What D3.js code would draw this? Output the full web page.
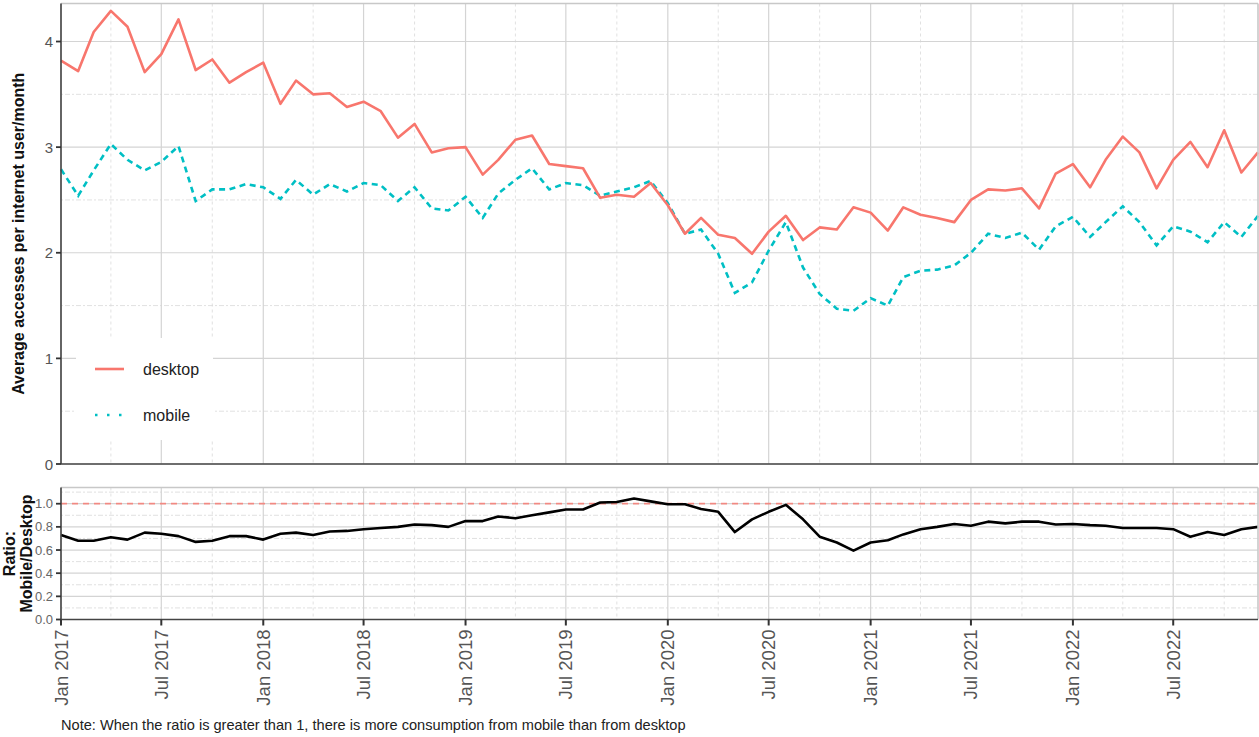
<!DOCTYPE html>
<html>
<head>
<meta charset="utf-8">
<script src="https://cdn.jsdelivr.net/npm/d3@7"></script>
<style>
  body { margin: 0; background: #fff; }
  svg { display: block; font-family: "Liberation Sans", Arial, sans-serif; }
</style>
</head>
<body>
<svg></svg>
<script>
const size = {w: 1259, h: 737};
const svg = d3.select('svg').attr('width', size.w).attr('height', size.h);

// monthly values, Jan 2017 .. Dec 2022
const months = d3.timeMonth.range(new Date(2017, 0, 1), new Date(2023, 0, 1));

const desktop = [
  3.82, 3.72, 4.09, 4.29, 4.14, 3.71, 3.88, 4.21, 3.73, 3.83, 3.61, 3.71,
  3.80, 3.41, 3.63, 3.50, 3.51, 3.38, 3.43, 3.34, 3.09, 3.22, 2.95, 2.99,
  3.00, 2.74, 2.88, 3.07, 3.11, 2.84, 2.82, 2.80, 2.52, 2.55, 2.53, 2.66,
  2.45, 2.18, 2.33, 2.17, 2.14, 1.99, 2.20, 2.35, 2.12, 2.24, 2.22, 2.43,
  2.38, 2.21, 2.43, 2.36, 2.33, 2.29, 2.50, 2.60, 2.59, 2.61, 2.42, 2.75,
  2.84, 2.62, 2.88, 3.10, 2.95, 2.61, 2.88, 3.05, 2.81, 3.16, 2.76, 2.95
];
const mobile = [
  2.79, 2.54, 2.78, 3.03, 2.88, 2.78, 2.86, 3.01, 2.49, 2.60, 2.60, 2.65,
  2.62, 2.51, 2.69, 2.55, 2.65, 2.58, 2.66, 2.64, 2.49, 2.62, 2.42, 2.40,
  2.53, 2.33, 2.56, 2.69, 2.80, 2.60, 2.66, 2.64, 2.54, 2.58, 2.62, 2.68,
  2.47, 2.18, 2.22, 1.99, 1.62, 1.72, 2.02, 2.29, 1.86, 1.61, 1.47, 1.45,
  1.57, 1.50, 1.77, 1.83, 1.84, 1.88, 2.00, 2.18, 2.14, 2.19, 2.03, 2.25,
  2.34, 2.15, 2.29, 2.44, 2.29, 2.07, 2.25, 2.20, 2.10, 2.29, 2.15, 2.35
];
const ratio = [
  0.73, 0.68, 0.68, 0.71, 0.69, 0.75, 0.74, 0.72, 0.67, 0.68, 0.72, 0.72,
  0.69, 0.74, 0.75, 0.73, 0.76, 0.765, 0.78, 0.79, 0.80, 0.82, 0.815, 0.80,
  0.85, 0.85, 0.89, 0.875, 0.90, 0.925, 0.95, 0.95, 1.01, 1.015, 1.045, 1.02,
  0.995, 0.995, 0.955, 0.93, 0.755, 0.865, 0.93, 0.99, 0.865, 0.715, 0.665, 0.595,
  0.665, 0.685, 0.735, 0.78, 0.80, 0.825, 0.81, 0.845, 0.83, 0.845, 0.845, 0.82,
  0.825, 0.815, 0.81, 0.79, 0.79, 0.79, 0.78, 0.715, 0.755, 0.73, 0.78, 0.80
];

const seriesNames = ['desktop', 'mobile'];
const seriesColors = ['#F8766D', '#00BFC4'];
const topTicks = [0, 1, 2, 3, 4];
const bottomTicks = [0, 0.2, 0.4, 0.6, 0.8, 1.0];
const noteText = 'Note: When the ratio is greater than 1, there is more consumption from mobile than from desktop';

// panels
const pTop = {l: 61, r: 1258, t: 3.5, b: 464};
const pBot = {l: 61, r: 1258, t: 487.5, b: 619.5};

const x = d3.scaleTime()
  .domain([months[0], months[months.length - 1]])
  .range([pTop.l, pTop.r]);
const yTop = d3.scaleLinear().domain([0, 4.36]).range([pTop.b, pTop.t]);
const yBot = d3.scaleLinear().domain([0, 1.14]).range([pBot.b, pBot.t]);

const majorX = d3.timeMonth.every(6).range(months[0], new Date(2023, 0, 1));
const minorX = d3.timeMonth.every(3).range(months[0], new Date(2023, 0, 1))
  .filter(d => d.getMonth() % 6 !== 0);

function drawGrid(g, p, y, major, minor) {
  // minor lines first
  g.append('g').selectAll('line').data(minorX).join('line')
    .attr('x1', d => x(d)).attr('x2', d => x(d))
    .attr('y1', p.t).attr('y2', p.b)
    .attr('stroke', '#d9d9d9').attr('stroke-width', 0.8)
    .attr('stroke-dasharray', '3,3');
  g.append('g').selectAll('line').data(minor).join('line')
    .attr('x1', p.l).attr('x2', p.r)
    .attr('y1', d => y(d)).attr('y2', d => y(d))
    .attr('stroke', '#d9d9d9').attr('stroke-width', 0.8)
    .attr('stroke-dasharray', '2,2,5,2');
  g.append('g').selectAll('line').data(majorX).join('line')
    .attr('x1', d => x(d)).attr('x2', d => x(d))
    .attr('y1', p.t).attr('y2', p.b)
    .attr('stroke', '#d4d4d4').attr('stroke-width', 1.2);
  g.append('g').selectAll('line').data(major).join('line')
    .attr('x1', p.l).attr('x2', p.r)
    .attr('y1', d => y(d)).attr('y2', d => y(d))
    .attr('stroke', '#d4d4d4').attr('stroke-width', 1.2);
}

function drawFrame(g, p) {
  g.append('line').attr('x1', p.l).attr('x2', p.r).attr('y1', p.t).attr('y2', p.t)
    .attr('stroke', '#c8c8c8').attr('stroke-width', 1.6);
  g.append('line').attr('x1', p.r).attr('x2', p.r).attr('y1', p.t).attr('y2', p.b)
    .attr('stroke', '#c8c8c8').attr('stroke-width', 1.6);
  g.append('line').attr('x1', p.l).attr('x2', p.l).attr('y1', p.t).attr('y2', p.b)
    .attr('stroke', '#444').attr('stroke-width', 1.6);
  g.append('line').attr('x1', p.l).attr('x2', p.r).attr('y1', p.b).attr('y2', p.b)
    .attr('stroke', '#444').attr('stroke-width', 1.6);
}

// ---------- TOP PANEL ----------
const topG = svg.append('g').classed('top-panel', true);
drawGrid(topG.append('g'), pTop, yTop, topTicks, [0.5, 1.5, 2.5, 3.5]);

const lineTop = (vals) => d3.line()
  .x((d, i) => x(months[i]))
  .y(d => yTop(d))(vals);

topG.append('path').attr('d', lineTop(mobile))
  .attr('fill', 'none').attr('stroke', seriesColors[1])
  .attr('stroke-width', 2.6).attr('stroke-dasharray', '6,4.5');
topG.append('path').attr('d', lineTop(desktop))
  .attr('fill', 'none').attr('stroke', seriesColors[0])
  .attr('stroke-width', 2.6).attr('stroke-linejoin', 'round');

// legend
const legG = topG.append('g').classed('legend', true);
legG.append('rect').attr('x', 76).attr('y', 338).attr('width', 137).attr('height', 102)
  .attr('fill', '#fff');
seriesNames.forEach((name, i) => {
  const ly = 369 + i * 46;
  const key = legG.append('line').attr('x1', 95).attr('x2', 124).attr('y1', ly).attr('y2', ly)
    .attr('stroke', seriesColors[i]).attr('stroke-width', 2.6);
  if (i === 1) key.attr('stroke-dasharray', '2.5,9.5');
  legG.append('text').attr('x', 143).attr('y', ly + 5.5)
    .attr('font-size', 16).attr('fill', '#222').text(name);
});

drawFrame(topG, pTop);

// y axis ticks + labels
topG.append('g').selectAll('line').data(topTicks).join('line')
  .attr('x1', pTop.l - 5).attr('x2', pTop.l)
  .attr('y1', d => yTop(d)).attr('y2', d => yTop(d))
  .attr('stroke', '#333').attr('stroke-width', 1.8);
topG.append('g').selectAll('text').data(topTicks).join('text')
  .attr('x', pTop.l - 8).attr('y', d => yTop(d) + 5.5)
  .attr('text-anchor', 'end').attr('font-size', 15).attr('fill', '#555')
  .text(d => d);

svg.append('text')
  .attr('transform', `translate(23.5, ${(pTop.t + pTop.b) / 2}) rotate(-90)`)
  .attr('text-anchor', 'middle').attr('font-size', 16).attr('font-weight', 'bold')
  .attr('fill', '#111').text('Average accesses per internet user/month');

// ---------- BOTTOM PANEL ----------
const botG = svg.append('g').classed('bottom-panel', true);
drawGrid(botG.append('g'), pBot, yBot, bottomTicks, [0.1, 0.3, 0.5, 0.7, 0.9, 1.1]);

botG.append('line')
  .attr('x1', pBot.l).attr('x2', pBot.r)
  .attr('y1', yBot(1)).attr('y2', yBot(1))
  .attr('stroke', '#F8766D').attr('stroke-opacity', 0.8)
  .attr('stroke-width', 1.8).attr('stroke-dasharray', '6,5');

botG.append('path')
  .attr('d', d3.line().x((d, i) => x(months[i])).y(d => yBot(d))(ratio))
  .attr('fill', 'none').attr('stroke', '#000').attr('stroke-width', 2.6)
  .attr('stroke-linejoin', 'round');

drawFrame(botG, pBot);

botG.append('g').selectAll('line').data(bottomTicks).join('line')
  .attr('x1', pBot.l - 5).attr('x2', pBot.l)
  .attr('y1', d => yBot(d)).attr('y2', d => yBot(d))
  .attr('stroke', '#333').attr('stroke-width', 1.8);
botG.append('g').selectAll('text').data(bottomTicks).join('text')
  .attr('x', pBot.l - 8).attr('y', d => yBot(d) + 4.5)
  .attr('text-anchor', 'end').attr('font-size', 13).attr('fill', '#666')
  .text(d => d3.format('.1f')(d));

const ratioTitle = svg.append('text')
  .attr('transform', `translate(0, ${(pBot.t + pBot.b) / 2}) rotate(-90)`)
  .attr('text-anchor', 'middle').attr('font-size', 16).attr('font-weight', 'bold')
  .attr('fill', '#111');
ratioTitle.append('tspan').attr('x', 0).attr('y', 15).text('Ratio:');
ratioTitle.append('tspan').attr('x', 0).attr('y', 31.5).text('Mobile/Desktop');

// x axis ticks + rotated labels
botG.append('g').selectAll('line').data(majorX).join('line')
  .attr('x1', d => x(d)).attr('x2', d => x(d))
  .attr('y1', pBot.b).attr('y2', pBot.b + 6)
  .attr('stroke', '#333').attr('stroke-width', 2);
botG.append('g').selectAll('text').data(majorX).join('text')
  .attr('transform', d => `translate(${x(d) + 6.5}, ${pBot.b + 10}) rotate(-90)`)
  .attr('text-anchor', 'end').attr('font-size', 18.5).attr('fill', '#555')
  .text(d => d3.timeFormat('%b %Y')(d));

svg.append('text').attr('x', 61).attr('y', 730)
  .attr('font-size', 14.6).attr('fill', '#222').text(noteText);
</script>
</body>
</html>
